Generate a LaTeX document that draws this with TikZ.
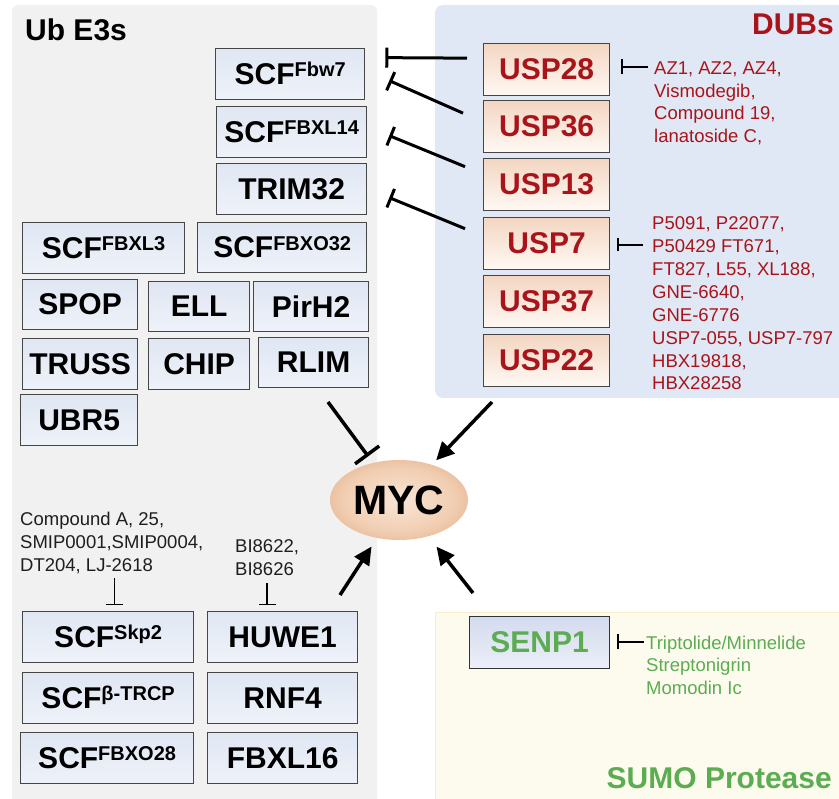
\documentclass[tikz,border=0pt]{standalone}
\usepackage{fontspec}
\setmainfont{Liberation Sans}
\usetikzlibrary{arrows.meta,shapes.geometric,calc}
\definecolor{graypanel}{RGB}{241,241,241}
\definecolor{dubpanel}{RGB}{225,232,245}
\definecolor{sumofill}{RGB}{253,251,238}
\definecolor{sumoborder}{RGB}{248,238,205}
\definecolor{e3top}{RGB}{224,231,243}
\definecolor{e3bot}{RGB}{238,242,249}
\definecolor{duptop}{RGB}{243,214,194}
\definecolor{dupbot}{RGB}{255,249,244}
\definecolor{senptop}{RGB}{212,219,238}
\definecolor{senpbot}{RGB}{236,239,248}
\definecolor{boxline}{RGB}{70,70,70}
\definecolor{dubred}{RGB}{168,20,26}
\definecolor{sumogreen}{RGB}{92,172,82}
\definecolor{drugblack}{RGB}{30,30,30}
\definecolor{mycA}{RGB}{248,230,214}
\definecolor{mycB}{RGB}{241,206,178}
\definecolor{mycC}{RGB}{222,164,120}
\definecolor{mycD}{RGB}{194,116,62}
\pgfdeclareradialshading{mycshade}{\pgfpoint{0bp}{0bp}}{color(0bp)=(mycA); color(20bp)=(mycB); color(38bp)=(mycC); color(50bp)=(mycD)}
\newcommand\sps[1]{\raisebox{7.5pt}[0pt][0pt]{\fontsize{20}{20}\selectfont #1}}
\tikzset{
  e3box/.style={draw=boxline, line width=1.3pt, top color=e3top, bottom color=e3bot, anchor=north west, inner sep=0pt, font=\fontsize{30}{30}\selectfont\bfseries},
  dubbox/.style={e3box, top color=duptop, bottom color=dupbot, text=dubred, minimum width=126, minimum height=52},
  senpbox/.style={e3box, draw=black!80, top color=senptop, bottom color=senpbot, text=sumogreen},
  drug/.style={anchor=north west, align=left, inner sep=0pt},
  dbar/.style={line width=1.3pt, -{Bar[width=15pt]}},
  inhib/.style={line width=3pt, -{Bar[width=20pt]}},
  arr/.style={line width=3.5pt, -{Triangle[length=18pt,width=17pt]}},
  title/.style={inner sep=0pt, font=\fontsize{30}{30}\selectfont\bfseries}
}
\begin{document}
\begin{tikzpicture}[x=1pt,y=-1pt]
\useasboundingbox (0,0) rectangle (839,799);
% panels
\fill[graypanel, rounded corners=6pt] (12,5) rectangle (377,810);
\fill[dubpanel, rounded corners=8pt] (435,5) rectangle (850,398);
\filldraw[fill=sumofill, draw=sumoborder, line width=0.8pt] (435,612) rectangle (850,810);
% titles
\node[title, anchor=base west] (ube3) at (25,41) {Ub E3s};
\node[title, anchor=base east, text=dubred] (dubs) at (834,35) {DUBs};
\node[title, anchor=base east, text=sumogreen] (sumo) at (832,788) {SUMO Protease};
% E3 boxes
\node[e3box, minimum width=149, minimum height=51] (fbw7) at (215,48) {SCF\sps{Fbw7}};
\node[e3box, minimum width=150, minimum height=51] (fbxl14) at (216,106) {SCF\sps{FBXL14}};
\node[e3box, minimum width=150, minimum height=51] (trim32) at (216,163) {TRIM32};
\node[e3box, minimum width=162, minimum height=51] (fbxl3) at (22,222) {SCF\sps{FBXL3}};
\node[e3box, minimum width=169, minimum height=50] (fbxo32) at (197,222) {SCF\sps{FBXO32}};
\node[e3box, minimum width=115, minimum height=50] (spop) at (22,279) {SPOP};
\node[e3box, minimum width=101, minimum height=50] (ell) at (148,281) {ELL};
\node[e3box, minimum width=115, minimum height=50] (pirh2) at (253,281) {PirH2};
\node[e3box, minimum width=115, minimum height=51] (truss) at (22,338) {TRUSS};
\node[e3box, minimum width=101, minimum height=51] (chip) at (148,338) {CHIP};
\node[e3box, minimum width=110, minimum height=50] (rlim) at (258,337) {RLIM};
\node[e3box, minimum width=117, minimum height=51] (ubr5) at (20,394) {UBR5};
\node[e3box, minimum width=171, minimum height=51] (skp2) at (22,611) {SCF\sps{Skp2}};
\node[e3box, minimum width=150, minimum height=51] (huwe1) at (207,611) {HUWE1};
\node[e3box, minimum width=171, minimum height=51] (btrcp) at (22,672) {SCF\sps{β-TRCP}};
\node[e3box, minimum width=150, minimum height=51] (rnf4) at (207,672) {RNF4};
\node[e3box, minimum width=173, minimum height=51] (fbxo28) at (20,732) {SCF\sps{FBXO28}};
\node[e3box, minimum width=150, minimum height=51] (fbxl16) at (207,732) {FBXL16};
% DUB boxes
\node[dubbox] (usp28) at (483,43) {USP28};
\node[dubbox] (usp36) at (483,100) {USP36};
\node[dubbox] (usp13) at (483,158) {USP13};
\node[dubbox] (usp7) at (483,217) {USP7};
\node[dubbox] (usp37) at (483,275) {USP37};
\node[dubbox] (usp22) at (483,334) {USP22};
% SENP1
\node[senpbox, minimum width=140, minimum height=52] (senp1) at (469,616) {SENP1};
% MYC
\node[ellipse, shade, shading=mycshade, minimum width=138, minimum height=80, inner sep=0pt, font=\fontsize{41}{41}\selectfont\bfseries] (myc) at (399,500) {MYC};
% drug lists
\node[drug, text=dubred, font=\fontsize{18.5}{22.5}\selectfont] (d28) at (654,61.5) {AZ1, AZ2, AZ4,\\Vismodegib,\\Compound 19,\\lanatoside C,};
\node[drug, text=dubred, font=\fontsize{18.5}{22.9}\selectfont] (d7) at (652,216.5) {P5091, P22077,\\P50429 FT671,\\FT827, L55, XL188,\\GNE-6640,\\GNE-6776\\USP7-055, USP7-797\\HBX19818,\\HBX28258};
\node[drug, text=drugblack, font=\fontsize{18.5}{23}\selectfont] (comp) at (20,511.5) {Compound A, 25,\\SMIP0001,SMIP0004,\\DT204, LJ-2618};
\node[drug, text=drugblack, font=\fontsize{18.5}{23}\selectfont] (bi) at (235,539.5) {BI8622,\\BI8626};
\node[drug, text=sumogreen, font=\fontsize{18.5}{22.5}\selectfont] (ds) at (646,635.5) {Triptolide/Minnelide\\Streptonigrin\\Momodin Ic};
% drug inhibition bars
\draw[dbar] ($(d28.north west)+(-6,5.5)$) -- ($(usp28.east |- d28.north west)+(11,5.5)$);
\draw[dbar, -{Bar[width=13pt]}] ($(d7.north west)+(-9,28.5)$) -- ($(usp7.east |- d7.north west)+(7,28.5)$);
\draw[dbar] ($(ds.north west)+(-2,6.5)$) -- ($(senp1.east |- ds.north west)+(7,6.5)$);
\draw[dbar, -{Bar[width=17pt]}] ($(comp.south)+(3,4.5)$) -- ($(comp.south |- skp2.north)+(3,-6)$);
\draw[dbar, -{Bar[width=17pt]}] ($(bi.south)+(0,7)$) -- ($(bi.south |- huwe1.north)+(0,-6)$);
% DUB -| E3 inhibitions
\draw[inhib] ($(usp28.west)+(-16,-11.5)$) -- ($(fbw7.east)+(20,-16.5)$);
\draw[inhib] ($(usp36.west)+(-20,-13.5)$) -- ($(fbw7.east)+(24,6.5)$);
\draw[inhib] ($(usp13.west)+(-18,-18)$) -- ($(fbxl14.east)+(22,3.5)$);
\draw[inhib] ($(usp7.west)+(-18,-15)$) -- ($(trim32.east)+(22,8.5)$);
% connectors to MYC
\coordinate (e3out) at (328,402);
\coordinate (dubout) at (492,402);
\coordinate (huweout) at (340,595);
\coordinate (senpout) at (473,593);
\draw[line width=3.5pt, -{Bar[width=30pt]}, shorten >=8pt] (e3out) -- (myc.125);
\draw[arr, shorten >=6pt] (dubout) -- (myc.47);
\draw[arr, shorten >=10pt] (huweout) -- (myc.240);
\draw[arr, shorten >=13pt] (senpout) -- (myc.309);
\end{tikzpicture}
\end{document}
